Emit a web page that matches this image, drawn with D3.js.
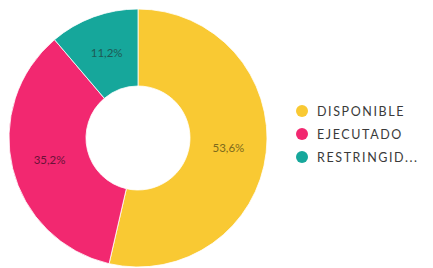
<!DOCTYPE html>
<html><head><meta charset="utf-8">
<script src="https://cdn.jsdelivr.net/npm/d3@7"></script>
<style>body{margin:0;background:#fff}svg{display:block}</style>
</head><body>
<script>
const categories = ["DISPONIBLE", "EJECUTADO", "RESTRINGIDO"];
const legendLabels = ["DISPONIBLE", "EJECUTADO", "RESTRINGID..."];
const values = [53.6, 35.2, 11.2];
const valueLabels = ["53,6%", "35,2%", "11,2%"];
const colors = ["#F9C933", "#F22870", "#16A79B"];
const labelColors = ["#7d6a1c", "#6a1238", "#1d5a55"];

const W = 433, H = 268, cx = 138, cy = 138, R = 129, r = 52;
const svg = d3.select("body").append("svg").attr("width", W).attr("height", H);
const pie = d3.pie().sort(null).value(d => d)(values);
const arc = d3.arc().innerRadius(r).outerRadius(R);
const labelArc = d3.arc().innerRadius(91).outerRadius(91);
const g = svg.append("g").attr("transform", `translate(${cx},${cy})`);
g.selectAll("path").data(pie).join("path")
  .attr("d", arc).attr("fill", (d, i) => colors[i])
  .attr("stroke", "#fff").attr("stroke-width", 0.8);
g.selectAll("text").data(pie).join("text")
  .attr("transform", d => `translate(${labelArc.centroid(d)})`)
  .attr("text-anchor", "middle").attr("dy", "0.35em")
  .attr("font-family", "Lato, sans-serif").attr("font-size", 11.5)
  .attr("fill", (d, i) => labelColors[i])
  .text((d, i) => valueLabels[i]);

const y = d3.scalePoint().domain(categories).range([111, 157]);
const lg = svg.append("g");
const items = lg.selectAll("g").data(categories).join("g")
  .attr("transform", d => `translate(302,${y(d)})`);
items.append("circle").attr("r", 6).attr("fill", (d, i) => colors[i]);
items.append("text").attr("x", 15).attr("dy", "0.36em")
  .attr("font-family", "Lato, sans-serif").attr("font-size", 12.5)
  .attr("letter-spacing", 1.6).attr("fill", "#3a3a3a")
  .text((d, i) => legendLabels[i]);
</script>
</body></html>
